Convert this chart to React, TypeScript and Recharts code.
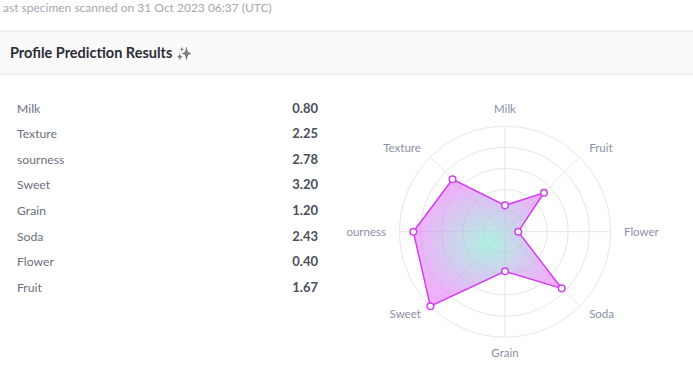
import React from "react";
import { RadarChart, Radar, PolarGrid, PolarAngleAxis, PolarRadiusAxis } from "recharts";

const attributes = ["Milk", "Texture", "sourness", "Sweet", "Grain", "Soda", "Flower", "Fruit"];
const scores = [0.8, 2.25, 2.78, 3.2, 1.2, 2.43, 0.4, 1.67];
const headerText = "ast specimen scanned on 31 Oct 2023 06:37 (UTC)";
const titleText = "Profile Prediction Results";

const data = attributes.map((name, i) => ({ name, value: scores[i] }));
// radar runs counter-clockwise from the top: first item, then the rest in reverse for a clockwise chart
const radarData = [data[0], ...data.slice(1).reverse()];
const maxScore = Math.max(...scores);

const FONT = "Lato, 'Noto Sans', sans-serif";
const CLIP_LEFT = 347;
const CHART_W = 693 - CLIP_LEFT;
const CHART_H = 294;
const CX = 505 - CLIP_LEFT;
const CY = 143.7;
const R = 105.5;
const STROKE = "#d43cf2";

const AngleTick = (props: any) => {
  const { payload } = props;
  const ang = (payload.coordinate * Math.PI) / 180;
  const c = Math.cos(ang);
  const s = Math.sin(ang);
  const r = R + 13.5;
  const x = CX + r * c;
  let y = CY - r * s;
  const anchor = c > 0.1 ? "start" : c < -0.1 ? "end" : "middle";
  if (s > 0.9) y -= 4;
  else if (s < -0.9) y += 2;
  else if (s < -0.1) y -= 2;
  return (
    <text x={x} y={y} dy="0.35em" textAnchor={anchor} fill="#8b90a6" fontSize={11.5} fontFamily={FONT}>
      {payload.value}
    </text>
  );
};

export default function App() {
  return (
    <div
      style={{
        position: "absolute",
        left: 0,
        top: 0,
        width: 693,
        height: 382,
        overflow: "hidden",
        background: "#fff",
        fontFamily: FONT,
      }}
    >
      <div
        style={{
          position: "absolute",
          left: 3,
          top: 0,
          fontSize: 12,
          lineHeight: "16px",
          color: "#a3a7b0",
          whiteSpace: "nowrap",
        }}
      >
        {headerText}
      </div>
      <div
        style={{
          position: "absolute",
          left: 0,
          top: 30,
          width: 693,
          height: 41,
          background: "#fafafa",
          borderTop: "2px solid #efefef",
          borderBottom: "2px solid #efefef",
        }}
      >
        <div
          style={{
            position: "absolute",
            left: 10,
            top: 12,
            fontSize: 14.5,
            lineHeight: "18px",
            fontWeight: 700,
            color: "#2b2e36",
            whiteSpace: "nowrap",
          }}
        >
          {titleText}{" "}
          <span style={{ filter: "grayscale(1) brightness(0.6)", fontSize: 13 }}>✨</span>
        </div>
      </div>
      {attributes.map((name, i) => (
        <div
          key={name}
          style={{
            position: "absolute",
            left: 17,
            top: 95.5 + i * 25.6,
            width: 301,
            height: 25.6,
            lineHeight: "25.6px",
            fontSize: 12.2,
          }}
        >
          <span style={{ position: "absolute", left: 0, color: "#6a707d" }}>{name}</span>
          <span style={{ position: "absolute", right: 0, color: "#4a4f5b", fontWeight: 700, fontSize: 13 }}>
            {scores[i].toFixed(2)}
          </span>
        </div>
      ))}
      <div style={{ position: "absolute", left: CLIP_LEFT, top: 88, width: CHART_W, height: CHART_H, overflow: "hidden" }}>
        <RadarChart
          width={CHART_W}
          height={CHART_H}
          data={radarData}
          cx={CX}
          cy={CY}
          outerRadius={R}
          margin={{ top: 0, right: 0, bottom: 0, left: 0 }}
        >
          <defs>
            <radialGradient id="radarFill" cx="50%" cy="50%" r="50%">
              <stop offset="0%" stopColor="#85e9d2" stopOpacity={0.65} />
              <stop offset="100%" stopColor="#e47cf7" stopOpacity={0.6} />
            </radialGradient>
          </defs>
          <PolarGrid
            gridType="circle"
            stroke="#e6e6e6"
            polarRadius={[1, 2, 3, 4, 5].map((k) => (R * k) / 5)}
          />
          <PolarRadiusAxis domain={[0, maxScore]} tick={false} axisLine={false} />
          <PolarAngleAxis dataKey="name" tick={AngleTick} tickLine={false} axisLine={false} />
          <Radar
            dataKey="value"
            stroke={STROKE}
            strokeWidth={1.5}
            fill="url(#radarFill)"
            fillOpacity={1}
            dot={{ r: 3.3, fill: "#fff", stroke: STROKE, strokeWidth: 1.5, fillOpacity: 1 }}
            isAnimationActive={false}
          />
        </RadarChart>
      </div>
    </div>
  );
}
